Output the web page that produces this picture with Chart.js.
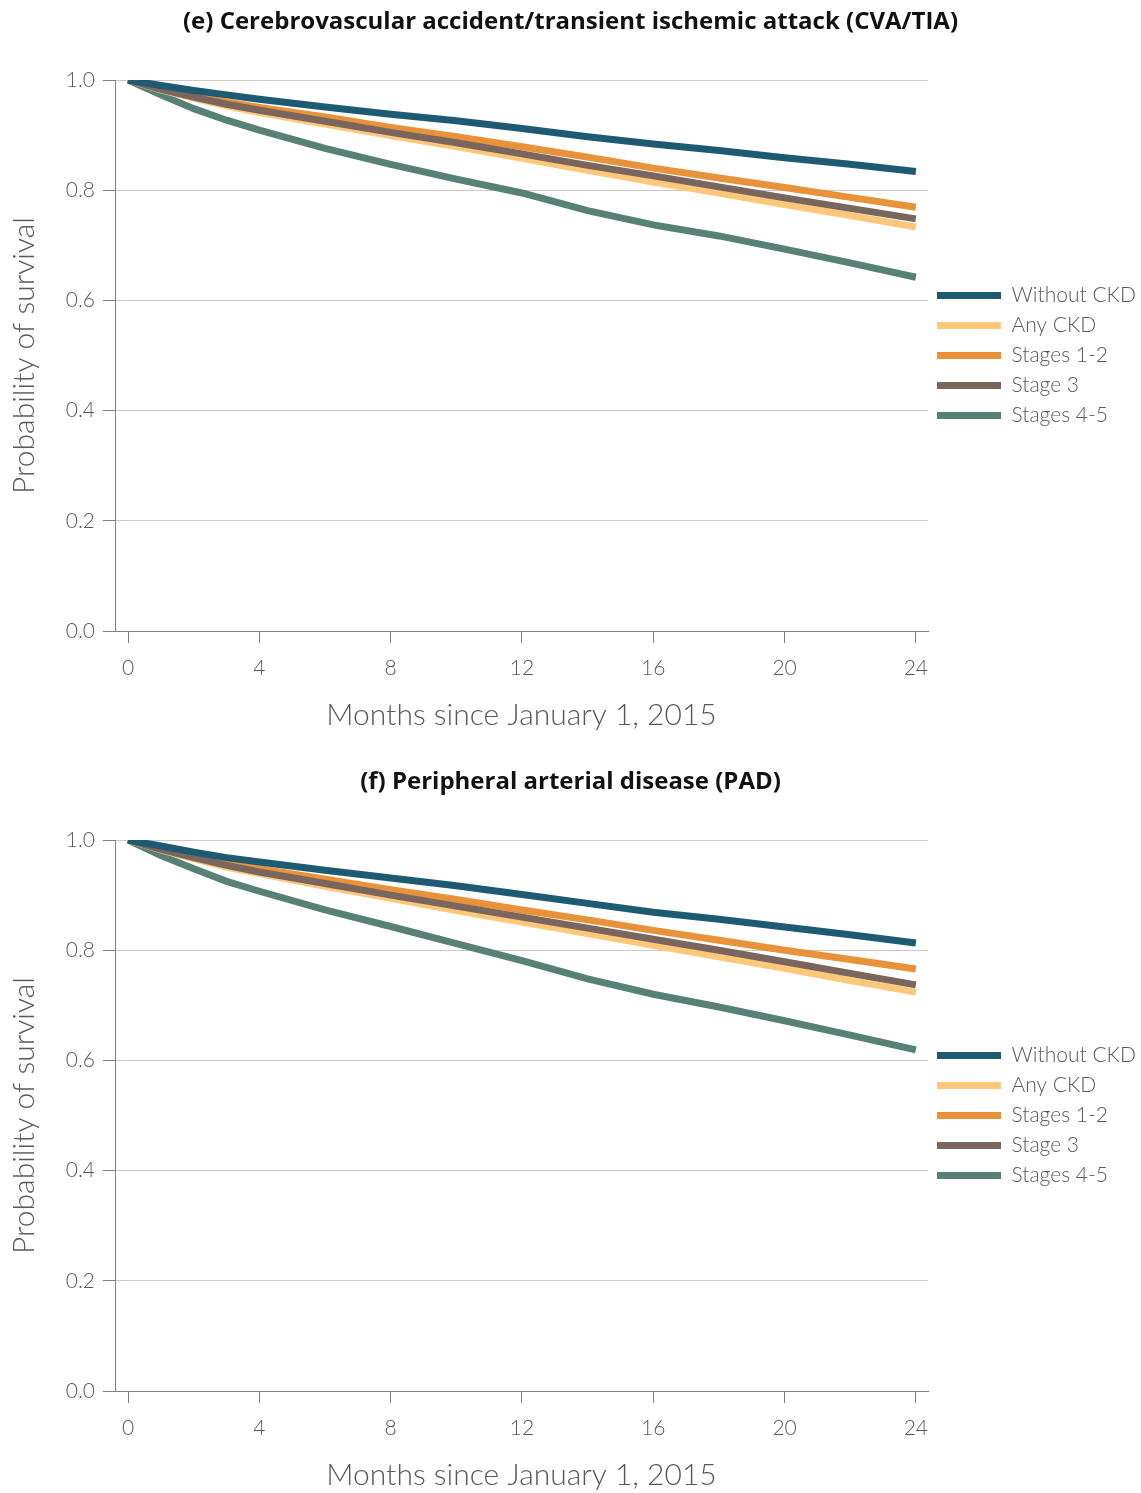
<!DOCTYPE html>
<html>
<head>
<meta charset="utf-8">
<script src="https://cdn.jsdelivr.net/npm/chart.js@4.4.1/dist/chart.umd.min.js"></script>
<style>
  body { margin: 0; background: #fff; }
  .wrap { position: absolute; left: 0; width: 1141px; height: 733px; }
</style>
</head>
<body>
<div class="wrap" style="top:0"><canvas id="cvaChart" width="1141" height="733"></canvas></div>
<div class="wrap" style="top:760px"><canvas id="padChart" width="1141" height="733"></canvas></div>
<script>
// survival curves
var months = [0, 1, 2, 3, 4, 6, 8, 10, 12, 14, 16, 18, 20, 22, 24];
var seriesNames = ['Without CKD', 'Any CKD', 'Stages 1-2', 'Stage 3', 'Stages 4-5'];
var xTicks = [0, 4, 8, 12, 16, 20, 24];
var yTicks = [0, 0.2, 0.4, 0.6, 0.8, 1.0];

// (e) CVA/TIA
var cvaWithout = [1, 0.990, 0.981, 0.973, 0.965, 0.951, 0.938, 0.926, 0.912, 0.897, 0.884, 0.872, 0.859, 0.847, 0.834];
var cvaAny     = [1, 0.982, 0.967, 0.953, 0.941, 0.920, 0.899, 0.879, 0.858, 0.836, 0.815, 0.795, 0.774, 0.754, 0.733];
var cvaSt12    = [1, 0.985, 0.972, 0.960, 0.950, 0.933, 0.914, 0.897, 0.879, 0.860, 0.840, 0.822, 0.805, 0.787, 0.769];
var cvaSt3     = [1, 0.983, 0.969, 0.956, 0.945, 0.925, 0.905, 0.886, 0.866, 0.845, 0.826, 0.806, 0.786, 0.767, 0.748];
var cvaSt45    = [1, 0.973, 0.948, 0.927, 0.909, 0.876, 0.847, 0.820, 0.795, 0.763, 0.737, 0.717, 0.693, 0.668, 0.642];

// (f) PAD
var padWithout = [1, 0.989, 0.978, 0.968, 0.960, 0.945, 0.931, 0.917, 0.901, 0.885, 0.869, 0.856, 0.842, 0.828, 0.813];
var padAny     = [1, 0.982, 0.966, 0.951, 0.939, 0.916, 0.894, 0.872, 0.851, 0.830, 0.809, 0.788, 0.767, 0.745, 0.724];
var padSt12    = [1, 0.985, 0.971, 0.958, 0.948, 0.929, 0.910, 0.892, 0.873, 0.855, 0.836, 0.818, 0.800, 0.783, 0.766];
var padSt3     = [1, 0.983, 0.968, 0.954, 0.942, 0.921, 0.900, 0.880, 0.860, 0.840, 0.820, 0.800, 0.779, 0.758, 0.737];
var padSt45    = [1, 0.972, 0.948, 0.925, 0.907, 0.873, 0.843, 0.812, 0.781, 0.748, 0.720, 0.697, 0.672, 0.646, 0.619];

var colors = ['#1e5a72', '#fdc87a', '#e8923a', '#7a665c', '#578077'];
var drawOrder = [0, 3, 2, 1, 4];

var tickFont = { family: 'Lato', size: 21, weight: '300' };
var axisTitleFont = { family: 'Lato', size: 30, weight: '300' };
var axisColor = '#7f7f7f';

function makeChart(canvasId, title, seriesList) {
    var ctx = document.getElementById(canvasId).getContext('2d');

    var datasets = seriesList.map(function(values, i) {
        return {
            label: seriesNames[i],
            data: months.map(function(m, j) { return { x: m, y: values[j] }; }),
            borderColor: colors[i],
            backgroundColor: colors[i],
            borderWidth: 7,
            pointRadius: 0,
            tension: 0,
            order: drawOrder[i]
        };
    });

    return new Chart(ctx, {
        type: 'line',
        data: { datasets: datasets },
        options: {
            responsive: false,
            animation: false,
            layout: { padding: 0 },
            scales: {
                x: {
                    type: 'linear',
                    min: -0.4,
                    max: 24.37,
                    afterBuildTicks: function(scale) {
                        scale.ticks = xTicks.map(function(v) { return { value: v }; });
                    },
                    afterFit: function(scale) { scale.height = 102; },
                    ticks: { font: tickFont, color: '#595959', padding: 13 },
                    grid: { drawOnChartArea: false, tickColor: axisColor, tickLength: 12 },
                    border: { color: axisColor, width: 1 },
                    title: {
                        display: true,
                        text: 'Months since January 1, 2015',
                        font: axisTitleFont,
                        color: '#595959',
                        padding: { top: 0, bottom: 0 }
                    }
                },
                y: {
                    min: 0,
                    max: 1,
                    afterBuildTicks: function(scale) {
                        scale.ticks = yTicks.map(function(v) { return { value: v }; });
                    },
                    afterFit: function(scale) { scale.width = 115; },
                    ticks: {
                        font: tickFont,
                        color: '#595959',
                        padding: 8,
                        callback: function(v) { return v.toFixed(1); }
                    },
                    grid: { color: '#d3c6bf', tickColor: axisColor, tickLength: 12 },
                    border: { color: axisColor, width: 1 },
                    title: {
                        display: true,
                        text: 'Probability of survival',
                        font: axisTitleFont,
                        color: '#595959',
                        padding: { top: 6, bottom: 0 }
                    }
                }
            },
            plugins: {
                title: {
                    display: true,
                    text: title,
                    font: { family: 'Open Sans', size: 24, weight: 'bold' },
                    color: '#111',
                    padding: { top: 8, bottom: 43.2 }
                },
                legend: {
                    display: true,
                    position: 'right',
                    align: 'center',
                    fullSize: false,
                    maxWidth: 213,
                    labels: {
                        boxWidth: 64,
                        boxHeight: 7,
                        padding: 9,
                        color: '#595959',
                        font: tickFont,
                        sort: function(a, b) { return a.datasetIndex - b.datasetIndex; },
                        generateLabels: function(chart) {
                            var items = Chart.defaults.plugins.legend.labels.generateLabels(chart);
                            items.forEach(function(item) {
                                item.lineWidth = 0;
                                item.fillStyle = item.strokeStyle;
                            });
                            return items;
                        }
                    }
                },
                tooltip: { enabled: false }
            }
        }
    });
}

document.addEventListener('DOMContentLoaded', function() {
    makeChart('cvaChart', '(e) Cerebrovascular accident/transient ischemic attack (CVA/TIA)',
        [cvaWithout, cvaAny, cvaSt12, cvaSt3, cvaSt45]);
    makeChart('padChart', '(f) Peripheral arterial disease (PAD)',
        [padWithout, padAny, padSt12, padSt3, padSt45]);
});
</script>
</body>
</html>
